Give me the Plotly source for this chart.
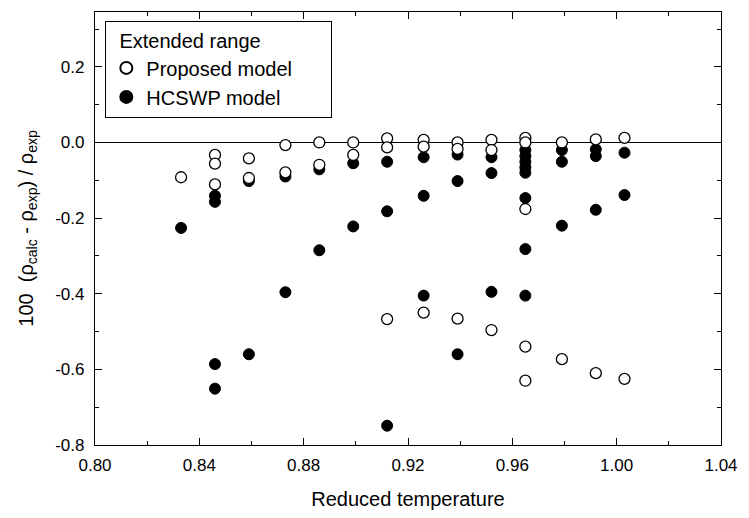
import plotly.graph_objects as go

# Proposed model (open circles)
prop_x = [0.833,
          0.846, 0.846, 0.846,
          0.859, 0.859,
          0.873, 0.873,
          0.886, 0.886,
          0.899, 0.899,
          0.912, 0.912, 0.912,
          0.926, 0.926, 0.926,
          0.939, 0.939, 0.939,
          0.952, 0.952, 0.952,
          0.965, 0.965, 0.965, 0.965, 0.965,
          0.979, 0.979,
          0.992, 0.992,
          1.003, 1.003]
prop_y = [-0.092,
          -0.033, -0.056, -0.111,
          -0.042, -0.094,
          -0.007, -0.079,
          0.000, -0.059,
          0.000, -0.033,
          0.011, -0.013, -0.467,
          0.007, -0.011, -0.450,
          0.000, -0.017, -0.466,
          0.007, -0.020, -0.496,
          0.012, 0.000, -0.176, -0.540, -0.630,
          0.000, -0.573,
          0.008, -0.610,
          0.012, -0.625]

# HCSWP model (filled circles)
hcs_x = [0.833,
         0.846, 0.846, 0.846, 0.846,
         0.859, 0.859,
         0.873, 0.873,
         0.886, 0.886,
         0.899, 0.899,
         0.912, 0.912, 0.912,
         0.926, 0.926, 0.926,
         0.939, 0.939, 0.939,
         0.952, 0.952, 0.952,
         0.965, 0.965, 0.965, 0.965, 0.965, 0.965, 0.965, 0.965,
         0.979, 0.979, 0.979,
         0.992, 0.992, 0.992,
         1.003, 1.003]
hcs_y = [-0.226,
         -0.141, -0.157, -0.586, -0.651,
         -0.102, -0.560,
         -0.090, -0.396,
         -0.071, -0.285,
         -0.055, -0.222,
         -0.051, -0.182, -0.749,
         -0.039, -0.141, -0.405,
         -0.032, -0.102, -0.560,
         -0.039, -0.081, -0.395,
         -0.020, -0.036, -0.051, -0.066, -0.080, -0.147, -0.282, -0.405,
         -0.020, -0.051, -0.220,
         -0.018, -0.036, -0.178,
         -0.027, -0.139]

x_tickvals = [0.80, 0.84, 0.88, 0.92, 0.96, 1.00, 1.04]
x_ticktext = ["0.80", "0.84", "0.88", "0.92", "0.96", "1.00", "1.04"]
y_tickvals = [-0.8, -0.6, -0.4, -0.2, 0.0, 0.2]
y_ticktext = ["-0.8", "-0.6", "-0.4", "-0.2", "0.0", "0.2"]

FONT = "Liberation Sans, Arial, sans-serif"
PAD = "\u00a0" * 6

fig = go.Figure()
fig.add_trace(go.Scatter(
    x=hcs_x, y=hcs_y, mode="markers", name="HCSWP model" + PAD,
    marker=dict(symbol="circle", size=11, color="black",
                line=dict(color="black", width=1)),
))
fig.add_trace(go.Scatter(
    x=prop_x, y=prop_y, mode="markers", name="Proposed model" + PAD,
    marker=dict(symbol="circle", size=11, color="white",
                line=dict(color="black", width=1.3)),
))

axis_common = dict(
    showgrid=False, showline=True, linecolor="black", linewidth=1.3,
    mirror="ticks", ticks="inside", ticklen=7, tickwidth=1, tickcolor="black",
    tickfont=dict(family=FONT, size=17, color="black"),
)

fig.update_xaxes(
    range=[0.80, 1.04], tickvals=x_tickvals, ticktext=x_ticktext,
    minor=dict(ticks="inside", ticklen=4, dtick=0.02, tick0=0.80, tickcolor="black"),
    title=dict(text="Reduced temperature", font=dict(family=FONT, size=20, color="black"),
               standoff=18),
    ticklabelstandoff=4,
    zeroline=False,
    **axis_common,
)
fig.update_yaxes(
    range=[-0.8, 0.345], tickvals=y_tickvals, ticktext=y_ticktext,
    minor=dict(ticks="inside", ticklen=4, dtick=0.1, tick0=0.0, tickcolor="black"),
    title=dict(text="100  (ρ<sub>calc</sub> - ρ<sub>exp</sub>) / ρ<sub>exp</sub>",
               font=dict(family=FONT, size=20, color="black"), standoff=16),
    ticklabelstandoff=6,
    zeroline=True, zerolinecolor="black", zerolinewidth=1.3,
    **axis_common,
)

fig.update_layout(
    width=749, height=518,
    margin=dict(l=95, r=22, t=11, b=73),
    paper_bgcolor="white", plot_bgcolor="white",
    font=dict(family=FONT, color="black"),
    showlegend=True,
    legend=dict(
        x=0.016, y=0.979, xanchor="left", yanchor="top",
        traceorder="reversed",
        bordercolor="black", borderwidth=1.3, bgcolor="white",
        title=dict(text="  Extended range", font=dict(family=FONT, size=20, color="black")),
        font=dict(family=FONT, size=20, color="black"),
        itemsizing="constant",
        tracegroupgap=0,
    ),
)

fig.write_html("out.html")
